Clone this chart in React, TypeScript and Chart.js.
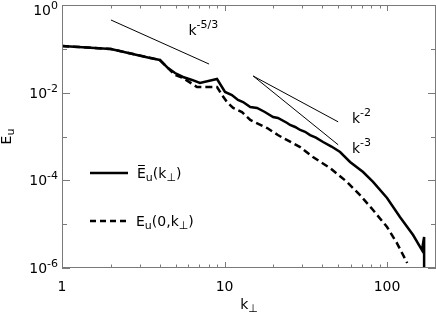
import React, { useEffect, useRef } from "react";
import { Chart, registerables } from "chart.js";
Chart.register(...registerables);

// ---- data ----
const solidK = [1, 2, 3.48, 4.0, 4.49, 4.96, 5.55, 6.31, 7.06, 8.99, 10.07, 11.1, 12.1, 13.0, 14.4, 15.85, 17.7, 19.9, 21.3, 24.3, 25.3, 27.2, 29.2, 31.3, 33.6, 36.5, 40.4, 45.5, 51.4, 59.2, 71.2, 82, 100, 120, 144.6, 164, 169, 169];
const solidE = [0.116, 0.099, 0.0618, 0.0556, 0.0365, 0.0281, 0.0228, 0.0195, 0.0166, 0.0205, 0.01035, 0.00885, 0.0068, 0.00612, 0.00471, 0.00447, 0.00362, 0.00279, 0.00264, 0.00203, 0.00183, 0.00165, 0.00141, 0.00128, 0.00108, 0.00094, 0.00075, 0.00059, 0.000443, 0.000262, 0.000155, 0.000092, 0.0000395, 0.0000146, 0.00000565, 0.00000257, 0.0000051, 0.0000001];

const dashK = [1, 2, 4.0, 4.49, 4.96, 5.55, 6.77, 8.99, 9.65, 10.36, 11.3, 12.8, 14.4, 18.3, 21.3, 22.9, 29.2, 35.0, 44.6, 56.7, 68.2, 82, 100, 115, 133];
const dashE = [0.116, 0.099, 0.0556, 0.0365, 0.0253, 0.0216, 0.01346, 0.01346, 0.00885, 0.00612, 0.00447, 0.00362, 0.00238, 0.00156, 0.00108, 0.000924, 0.000575, 0.00034, 0.000191, 0.000092, 0.000046, 0.000021, 0.0000086, 0.0000037, 0.0000013];

const slope53K = [2, 8.03];
const slope53E = [0.455, 0.045];
const slope2K = [15, 50];
const slope2E = [0.024, 0.00216];
const slope3K = [15, 50];
const slope3E = [0.024, 0.000648];

const xMin = 1;
const xMax = 200;
const yMin = 1e-6;
const yMax = 1;
const xMajorTicks = [1, 10, 100];
const xTickLabels = ["1", "10", "100"];
const xMinorTicks = [2, 3, 4, 5, 6, 7, 8, 9, 20, 30, 40, 50, 60, 70, 80, 90, 200];
const yTickExps = [0, -1, -2, -3, -4, -5, -6];
const yLabelExps = [0, -2, -4, -6];

// annotation anchors (data coordinates: left edge / baseline of "k")
const annotK = [6.0, 60.8, 60.8];
const annotE = [0.207, 0.00203, 0.00042];
const annotExp = ["-5/3", "-2", "-3"];

const FONT = '"DejaVu Sans", "Liberation Sans", sans-serif';
const f = (s: number) => `${s}px ${FONT}`;

type Part = { t: string; size: number; dy: number; bar?: boolean };

function drawParts(ctx: CanvasRenderingContext2D, parts: Part[], x: number, y: number, align: "left" | "center" | "right") {
  const widths = parts.map((p) => {
    ctx.font = f(p.size);
    return ctx.measureText(p.t).width;
  });
  const total = widths.reduce((a, b) => a + b, 0);
  let cx = align === "left" ? x : align === "center" ? x - total / 2 : x - total;
  ctx.textAlign = "left";
  ctx.textBaseline = "alphabetic";
  parts.forEach((p, i) => {
    ctx.font = f(p.size);
    ctx.fillText(p.t, cx, y + p.dy);
    if (p.bar) {
      ctx.save();
      ctx.lineWidth = 1;
      ctx.beginPath();
      const by = Math.round(y + p.dy - p.size * 0.73 - 3) + 0.5;
      ctx.moveTo(cx + 1, by);
      ctx.lineTo(cx + widths[i] - 1, by);
      ctx.stroke();
      ctx.restore();
    }
    cx += widths[i];
  });
}

const framePlugin = {
  id: "frame",
  afterDraw(chart: any) {
    const ctx: CanvasRenderingContext2D = chart.ctx;
    const { left, right, top, bottom } = chart.chartArea;
    const xs = chart.scales.x;
    const ys = chart.scales.y;
    ctx.save();
    // frame
    ctx.strokeStyle = "#7a7a7a";
    ctx.lineWidth = 1;
    ctx.strokeRect(left + 0.5, top + 0.5, right - left - 1, bottom - top - 1);
    // x ticks (bottom + top)
    const xt = (v: number, len: number) => {
      const px = Math.round(xs.getPixelForValue(v)) + 0.5;
      ctx.beginPath();
      ctx.moveTo(px, bottom);
      ctx.lineTo(px, bottom - len);
      ctx.moveTo(px, top);
      ctx.lineTo(px, top + len);
      ctx.stroke();
    };
    xMajorTicks.forEach((v) => xt(v, 6));
    xMinorTicks.forEach((v) => xt(v, 3.5));
    // y ticks (left + right)
    yTickExps.forEach((e) => {
      const py = Math.round(ys.getPixelForValue(Math.pow(10, e))) + 0.5;
      const len = e % 2 === 0 ? 8 : 5;
      ctx.beginPath();
      ctx.moveTo(left, py);
      ctx.lineTo(left + len, py);
      ctx.moveTo(right, py);
      ctx.lineTo(right - len, py);
      ctx.stroke();
    });
    ctx.fillStyle = "#000";
    // x tick labels
    xMajorTicks.forEach((v, i) => {
      drawParts(ctx, [{ t: xTickLabels[i], size: 14, dy: 0 }], xs.getPixelForValue(v), bottom + 23, "center");
    });
    // y tick labels
    yLabelExps.forEach((e) => {
      const py = Math.max(ys.getPixelForValue(Math.pow(10, e)), 10);
      drawParts(
        ctx,
        [
          { t: "10", size: 14, dy: 0 },
          { t: e === 0 ? "0" : String(e), size: 11, dy: -6 },
        ],
        left - 4,
        py + 5,
        "right"
      );
    });
    // x axis title
    drawParts(
      ctx,
      [
        { t: "k", size: 14, dy: 0 },
        { t: "\u22A5", size: 11, dy: 3 },
      ],
      (left + right) / 2,
      bottom + 41,
      "center"
    );
    // y axis title
    ctx.save();
    ctx.translate(11, (top + bottom) / 2);
    ctx.rotate(-Math.PI / 2);
    drawParts(
      ctx,
      [
        { t: "E", size: 14, dy: 0 },
        { t: "u", size: 11, dy: 3 },
      ],
      0,
      0,
      "center"
    );
    ctx.restore();
    // slope annotations
    annotK.forEach((k, i) => {
      drawParts(
        ctx,
        [
          { t: "k", size: 14, dy: 0 },
          { t: annotExp[i], size: 11, dy: -7 },
        ],
        xs.getPixelForValue(k),
        ys.getPixelForValue(annotE[i]),
        "left"
      );
    });
    // legend
    ctx.strokeStyle = "#000";
    ctx.lineWidth = 2.5;
    ctx.beginPath();
    ctx.moveTo(90, 173);
    ctx.lineTo(128, 173);
    ctx.stroke();
    ctx.setLineDash([6, 4]);
    ctx.beginPath();
    ctx.moveTo(90, 221);
    ctx.lineTo(128, 221);
    ctx.stroke();
    ctx.setLineDash([]);
    drawParts(
      ctx,
      [
        { t: "E", size: 14, dy: 0, bar: true },
        { t: "u", size: 11, dy: 3 },
        { t: "(k", size: 14, dy: 0 },
        { t: "\u22A5", size: 11, dy: 3 },
        { t: ")", size: 14, dy: 0 },
      ],
      137,
      178,
      "left"
    );
    drawParts(
      ctx,
      [
        { t: "E", size: 14, dy: 0 },
        { t: "u", size: 11, dy: 3 },
        { t: "(0,k", size: 14, dy: 0 },
        { t: "\u22A5", size: 11, dy: 3 },
        { t: ")", size: 14, dy: 0 },
      ],
      136,
      226,
      "left"
    );
    ctx.restore();
  },
};

const pts = (xs: number[], ys: number[]) => xs.map((x, i) => ({ x, y: ys[i] }));

export default function App() {
  const ref = useRef<HTMLCanvasElement>(null);
  useEffect(() => {
    document.body.style.margin = "0";
    const canvas = ref.current!;
    const base = { pointRadius: 0, tension: 0, fill: false, borderColor: "#000", borderCapStyle: "butt" as const };
    const chart = new Chart(canvas, {
      type: "line",
      data: {
        datasets: [
          { ...base, data: pts(solidK, solidE), borderWidth: 2.5, borderJoinStyle: "miter" },
          { ...base, data: pts(dashK, dashE), borderWidth: 2.5, borderDash: [7, 4] },
          { ...base, data: pts(slope53K, slope53E), borderWidth: 1 },
          { ...base, data: pts(slope2K, slope2E), borderWidth: 1 },
          { ...base, data: pts(slope3K, slope3E), borderWidth: 1 },
        ],
      },
      options: {
        animation: false,
        responsive: false,
        devicePixelRatio: 1,
        layout: { padding: { left: 62, right: 0, top: 5, bottom: 46 } },
        scales: {
          x: { type: "logarithmic", min: xMin, max: xMax, display: false },
          y: { type: "logarithmic", min: yMin, max: yMax, display: false },
        },
        plugins: { legend: { display: false }, tooltip: { enabled: false } },
        events: [],
      },
      plugins: [framePlugin],
    });
    return () => chart.destroy();
  }, []);
  return <canvas ref={ref} width={436} height={314} style={{ display: "block" }} />;
}
